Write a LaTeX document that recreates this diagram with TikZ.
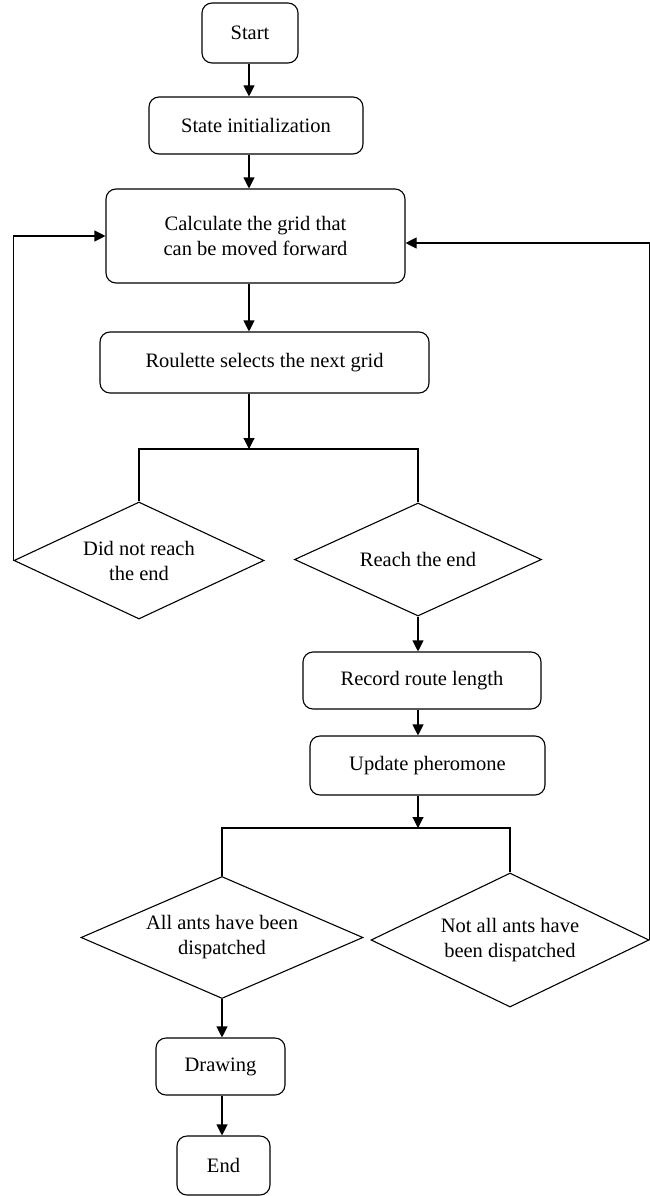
\documentclass[tikz,border=0pt]{standalone}
\usepackage{fontspec}
\setmainfont{Liberation Serif}
\usetikzlibrary{shapes.geometric,arrows.meta}
\tikzset{
  box/.style={draw, rounded corners=10pt, line width=1.1pt, inner sep=0pt, align=center,
    font=\fontsize{20.5}{25}\selectfont},
  dec/.style={draw, diamond, aspect=2.3, inner sep=0pt, line width=1.1pt, align=center,
    font=\fontsize{20.5}{25}\selectfont},
  link/.style={line width=1.1pt},
  arr/.style={line width=1.1pt, -{Triangle[length=11pt,width=11pt]}},
}
\begin{document}
\begin{tikzpicture}[x=1pt,y=-1pt]
\useasboundingbox (0,0) rectangle (650,1196);
\node[box, minimum width=96pt, minimum height=60pt] (start) at (250,33) {Start};
\node[box, minimum width=214pt, minimum height=57pt] (state) at (256,125.5) {State initialization};
\node[box, minimum width=299pt, minimum height=94pt] (calc) at (255.5,236) {Calculate the grid that\\can be moved forward};
\node[box, minimum width=329pt, minimum height=61pt] (roul) at (264.5,362.5) {Roulette selects the next grid};
\node[dec, minimum width=250pt, minimum height=117pt] (d1) at (139,560.5) {Did not reach\\the end};
\node[dec, minimum width=247pt, minimum height=113pt] (d2) at (418,559.5) {Reach the end};
\node[box, minimum width=238pt, minimum height=57pt] (rec) at (422,680.5) {Record route length};
\node[box, minimum width=235pt, minimum height=59pt] (upd) at (427.5,765.5) {Update pheromone};
\node[dec, minimum width=282pt, minimum height=122pt] (d3) at (222,937.5) {All ants have been\\dispatched};
\node[dec, minimum width=278pt, minimum height=134pt] (d4) at (510,940) {Not all ants have\\been dispatched};
\node[box, minimum width=129pt, minimum height=57pt] (draw) at (220.5,1066.5) {Drawing};
\node[box, minimum width=93pt, minimum height=59pt] (end) at (223.5,1165.5) {End};
\coordinate (spine) at (249,0);
\coordinate (j1) at (249,449);
\coordinate (j2) at (418,828);
% main spine
\draw[arr] (spine |- start.south) -- (spine |- state.north);
\draw[arr] (spine |- state.south) -- (spine |- calc.north);
\draw[arr] (spine |- calc.south) -- (spine |- roul.north);
\draw[arr] (spine |- roul.south) -- (j1);
\draw[link] (d1.north) |- (j1) -| (d2.north);
\draw[arr] (d2.south) -- (d2.south |- rec.north);
\draw[arr] (d2.south |- rec.south) -- (d2.south |- upd.north);
\draw[arr] (d2.south |- upd.south) -- (j2);
\draw[link] (d3.north) |- (j2) -| (d4.north);
\draw[arr] (d3.south) -- (d3.south |- draw.north);
\draw[arr] (d3.south |- draw.south) -- (d3.south |- end.north);
% loops
\draw[arr] (d1.west) |- (calc.west);
\draw[arr] (d4.east) |- ([yshift=-7pt]calc.east);
\end{tikzpicture}
\end{document}
